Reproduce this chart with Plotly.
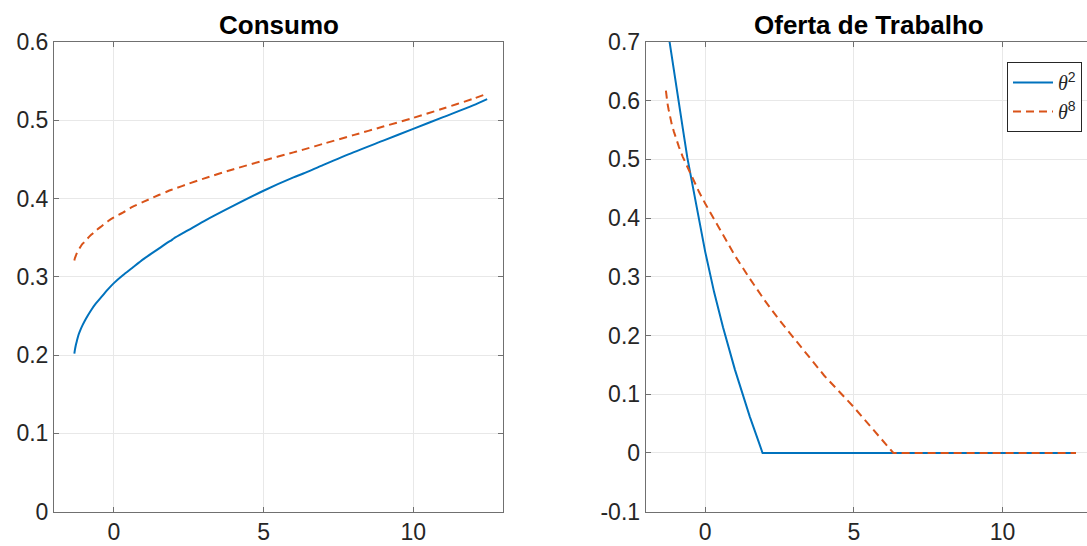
import plotly.graph_objects as go
from plotly.subplots import make_subplots

# Shared grid on the horizontal axis
grid_x = [-1.32, -1.30, -1.27, -1.23, -1.18, -1.12, -1.05, -0.97, -0.88, -0.75, -0.6, -0.4,
          -0.2, 0, 0.3, 0.6, 1, 1.5, 1.8, 1.93, 2, 2.5, 3, 4, 5, 6, 6.33, 7, 8, 9, 10, 11,
          12, 12.47]

# Consumption policies
consumo_theta2 = [0.202, 0.207, 0.213, 0.219, 0.226, 0.232, 0.238, 0.244, 0.250, 0.258, 0.266,
                  0.275, 0.284, 0.292, 0.302, 0.311, 0.323, 0.336, 0.344, 0.347, 0.349, 0.360,
                  0.371, 0.391, 0.410, 0.427, 0.432, 0.443, 0.459, 0.474, 0.489, 0.504, 0.519,
                  0.527]
consumo_theta8 = [0.321, 0.324, 0.327, 0.331, 0.334, 0.338, 0.342, 0.345, 0.349, 0.354, 0.359,
                  0.365, 0.371, 0.376, 0.382, 0.389, 0.396, 0.4045, 0.4093, 0.4112, 0.4122,
                  0.419, 0.4255, 0.4375, 0.4485, 0.459, 0.4625, 0.470, 0.481, 0.492, 0.503,
                  0.515, 0.5275, 0.534]

# Labour supply policies
trabalho_theta2 = [0.741, 0.734, 0.724, 0.710, 0.693, 0.673, 0.650, 0.623, 0.594, 0.552, 0.503,
                   0.448, 0.394, 0.343, 0.274, 0.214, 0.142, 0.062, 0.019, 0.0, 0.0, 0.0,
                   0.0, 0.0, 0.0, 0.0, 0.0, 0.0, 0.0, 0.0, 0.0, 0.0, 0.0, 0.0]
trabalho_theta8 = [0.617, 0.607, 0.596, 0.585, 0.572, 0.559, 0.547, 0.534, 0.521, 0.504, 0.487,
                   0.465, 0.444, 0.425, 0.399, 0.371, 0.336, 0.297, 0.274, 0.265, 0.260, 0.226,
                   0.194, 0.132, 0.078, 0.019, 0.0, 0.0, 0.0, 0.0, 0.0, 0.0, 0.0, 0.0]

x_ticks = [0, 5, 10]
x_tick_text = ["0", "5", "10"]
y1_ticks = [0, 0.1, 0.2, 0.3, 0.4, 0.5, 0.6]
y1_tick_text = ["0", "0.1", "0.2", "0.3", "0.4", "0.5", "0.6"]
y2_ticks = [-0.1, 0, 0.1, 0.2, 0.3, 0.4, 0.5, 0.6, 0.7]
y2_tick_text = ["-0.1", "0", "0.1", "0.2", "0.3", "0.4", "0.5", "0.6", "0.7"]

titles = ["Consumo", "Oferta de Trabalho"]
names = ["<span style=\"font-family:'Liberation Serif'\"><i>θ</i></span><sup>2</sup>",
         "<span style=\"font-family:'Liberation Serif'\"><i>θ</i></span><sup>8</sup>"]

BLUE = "#0072BD"
ORANGE = "#D95319"
AXIS = "#707070"
GRID = "#e8e8e8"
TXT = "#262626"

W, H = 1087, 546
fig = make_subplots(rows=1, cols=2)

# smooth curves for consumption, straight segments for labour (sharp corner at zero)
solid_s = dict(color=BLUE, width=2, shape="spline", smoothing=0.8)
dashed_s = dict(color=ORANGE, width=2, dash="8px,5px", shape="spline", smoothing=0.8)
solid_l = dict(color=BLUE, width=2)
dashed_l = dict(color=ORANGE, width=2, dash="8px,5px")

fig.add_trace(go.Scatter(x=grid_x, y=consumo_theta2, mode="lines", name=names[0],
                         line=solid_s, showlegend=False), row=1, col=1)
fig.add_trace(go.Scatter(x=grid_x, y=consumo_theta8, mode="lines", name=names[1],
                         line=dashed_s, showlegend=False), row=1, col=1)
fig.add_trace(go.Scatter(x=grid_x, y=trabalho_theta2, mode="lines", name=names[0],
                         line=solid_l), row=1, col=2)
fig.add_trace(go.Scatter(x=grid_x, y=trabalho_theta8, mode="lines", name=names[1],
                         line=dashed_l), row=1, col=2)

def px_x(p):
    return p / W

def px_y(p):
    return 1 - p / H

y_dom = [px_y(511.7), px_y(42)]

common_axis = dict(showline=True, linecolor=AXIS, linewidth=1, ticks="inside", ticklen=5,
                   tickcolor=AXIS, showgrid=True, gridcolor=GRID, gridwidth=1, zeroline=False,
                   automargin=False,
                   tickfont=dict(family="Liberation Sans", size=23, color=TXT))

fig.update_xaxes(common_axis)
fig.update_yaxes(common_axis)

fig.update_layout(
    xaxis=dict(domain=[px_x(54), px_x(503)], range=[-2, 13], tickvals=x_ticks,
               ticktext=x_tick_text, mirror="ticks"),
    yaxis=dict(domain=y_dom, range=[0, 0.6], tickvals=y1_ticks, ticktext=y1_tick_text,
               mirror="ticks"),
    xaxis2=dict(domain=[px_x(645.7), 1.0], range=[-2, 12.84], tickvals=x_ticks,
                ticktext=x_tick_text, mirror="ticks"),
    yaxis2=dict(domain=y_dom, range=[-0.1, 0.7], tickvals=y2_ticks, ticktext=y2_tick_text,
                mirror=False),
)

fig.add_annotation(text="<b>" + titles[0] + "</b>", xref="paper", yref="paper",
                   x=px_x(278.5), y=px_y(25), xanchor="center", yanchor="middle",
                   showarrow=False, font=dict(family="Liberation Sans", size=26, color="black"))
fig.add_annotation(text="<b>" + titles[1] + "</b>", xref="paper", yref="paper",
                   x=px_x(869), y=px_y(25), xanchor="center", yanchor="middle",
                   showarrow=False, font=dict(family="Liberation Sans", size=26, color="black"))

fig.update_layout(
    width=W, height=H,
    margin=dict(l=0, r=0, t=0, b=0),
    paper_bgcolor="white", plot_bgcolor="white",
    legend=dict(x=px_x(1007), y=px_y(62), xanchor="left", yanchor="top",
                bgcolor="white", bordercolor=TXT, borderwidth=1,
                font=dict(family="Liberation Sans", size=20, color=TXT),
                itemwidth=40, tracegroupgap=0),
    showlegend=True,
)

fig.write_html("out.html")
